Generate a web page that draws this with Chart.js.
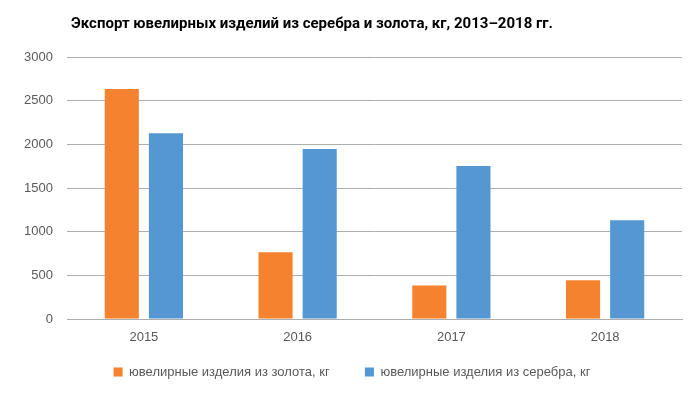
<!DOCTYPE html>
<html>
<head>
<meta charset="utf-8">
<script src="https://cdn.jsdelivr.net/npm/chart.js@4"></script>
<style>
html,body{margin:0;padding:0;background:#fff;}
#wrap{width:698px;height:394px;position:relative;}
</style>
</head>
<body>
<div id="wrap"><canvas id="c" width="698" height="394"></canvas></div>
<script>
const categories = ['2015', '2016', '2017', '2018'];
const goldValues = [2635, 765, 385, 445];
const silverValues = [2128, 1947, 1751, 1131];
const seriesNames = ['ювелирные изделия из золота, кг', 'ювелирные изделия из серебра, кг'];
const yTicks = [0, 500, 1000, 1500, 2000, 2500, 3000];
const titleText = 'Экспорт ювелирных изделий из серебра и золота, кг, 2013–2018 гг.';

const shiftBlocks = {
  id: 'shiftBlocks',
  afterLayout(chart) {
    const t = chart.titleBlock;
    if (t) { t.left -= 29; t.right -= 29; }
    const l = chart.legend;
    if (l) { l.left += 11; l.right += 11; }
  }
};

new Chart(document.getElementById('c'), {
  type: 'bar',
  data: {
    labels: categories,
    datasets: [
      { label: seriesNames[0], data: goldValues, backgroundColor: '#F4822F', categoryPercentage: 0.574, barPercentage: 0.773 },
      { label: seriesNames[1], data: silverValues, backgroundColor: '#5597D2', categoryPercentage: 0.574, barPercentage: 0.773 }
    ]
  },
  plugins: [shiftBlocks],
  options: {
    responsive: false,
    animation: false,
    devicePixelRatio: 1,
    layout: { padding: { left: 0, right: 16, top: 0, bottom: 5.5 } },
    plugins: {
      title: {
        display: true,
        text: titleText,
        color: '#000',
        font: { family: 'Roboto', size: 15, weight: 'bold' },
        padding: { top: 15, bottom: 24 }
      },
      legend: {
        position: 'bottom',
        labels: {
          color: '#595959',
          font: { family: 'Liberation Sans', size: 13 },
          boxWidth: 9, boxHeight: 9,
          padding: 10,
          generateLabels: (chart) => {
            const items = Chart.defaults.plugins.legend.labels.generateLabels(chart);
            items.forEach((it, i) => { if (i < items.length - 1) it.text = it.text + '\u00A0\u00A0\u00A0\u00A0\u00A0\u00A0\u00A0'; });
            return items;
          }
        }
      },
      tooltip: { enabled: false }
    },
    scales: {
      x: {
        afterFit: (s) => { s.height = 36.5; },
        grid: { display: false, drawTicks: false },
        border: { display: true, color: '#ADADAD', width: 1 },
        ticks: { color: '#595959', font: { family: 'Liberation Sans', size: 13 }, padding: 11 }
      },
      y: {
        min: 0, max: 3000,
        afterFit: (s) => { s.width = 67; },
        afterBuildTicks: (s) => { s.ticks = yTicks.map(v => ({ value: v })); },
        grid: { color: '#ADADAD', drawTicks: false },
        border: { display: false },
        ticks: { color: '#595959', font: { family: 'Liberation Sans', size: 13 }, padding: 14,
                 callback: (v) => String(v) }
      }
    }
  }
});
</script>
</body>
</html>
